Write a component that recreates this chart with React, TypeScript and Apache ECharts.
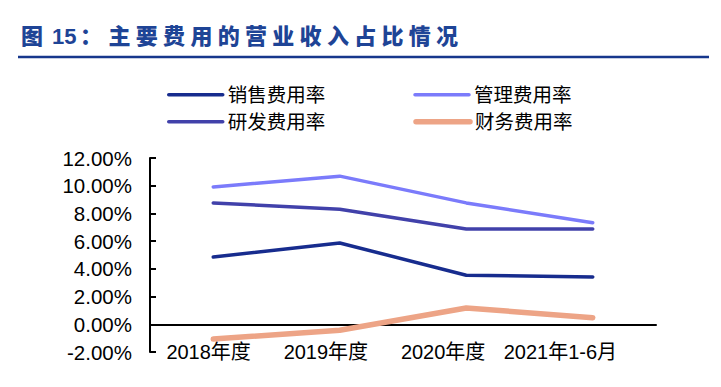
import React, { useEffect, useRef } from "react";
import * as echarts from "echarts";

const categories = ["2018年度", "2019年度", "2020年度", "2021年1-6月"];
const seriesNames = ["销售费用率", "管理费用率", "研发费用率", "财务费用率"];
const salesRate = [4.86, 5.87, 3.54, 3.42];
const adminRate = [9.91, 10.69, 8.76, 7.32];
const rdRate = [8.76, 8.3, 6.88, 6.88];
const financeRate = [-1.07, -0.43, 1.18, 0.48];
const seriesColors = ["#172C8E", "#7B7BFB", "#4141AA", "#EDA486"];
const seriesWidths = [3.5, 3.5, 3.5, 5.5];
const yMin = -2;
const yMax = 12;
const yInterval = 2;
const titlePrefix = ["图", "15", "："];
const titleBody = "主要费用的营业收入占比情况";

const FONT = "'Liberation Sans', 'Noto Sans CJK SC', sans-serif";
const TITLE_COLOR = "#1E4496";

export default function App() {
  const ref = useRef<HTMLDivElement>(null);
  useEffect(() => {
    if (!ref.current) return;
    const chart = echarts.init(ref.current, null, { renderer: "svg" });
    const data = [salesRate, adminRate, rdRate, financeRate];

    const prefixX = [21, 52, 80];
    const titleEls: any[] = [];
    titlePrefix.forEach((t, i) => {
      titleEls.push({
        type: "text",
        x: prefixX[i],
        y: 36,
        style: {
          text: t,
          fill: TITLE_COLOR,
          font: `900 22px ${FONT}`,
          textVerticalAlign: "middle",
        },
      });
    });
    Array.from(titleBody).forEach((ch, i) => {
      titleEls.push({
        type: "text",
        x: 108.5 + i * 27.3,
        y: 36,
        style: {
          text: ch,
          fill: TITLE_COLOR,
          font: `900 22px ${FONT}`,
          textVerticalAlign: "middle",
        },
      });
    });
    titleEls.push({
      type: "line",
      shape: { x1: 18, y1: 57, x2: 709, y2: 57 },
      style: { stroke: "#16378C", lineWidth: 2.5 },
    });

    const legendItem = (i: number) => ({
      name: seriesNames[i],
      itemStyle: { opacity: 0 },
      lineStyle: { width: seriesWidths[i], cap: "round", color: seriesColors[i] },
    });

    const legendBase = {
      left: 167,
      padding: 0,
      itemWidth: 54,
      itemHeight: 14,
      itemGap: 88,
      selectedMode: false,
      textStyle: { fontSize: 19.5, color: "#000", fontFamily: FONT },
    };

    chart.setOption({
      animation: false,
      backgroundColor: "#ffffff",
      textStyle: { fontFamily: FONT },
      graphic: titleEls,
      legend: [
        { ...legendBase, top: 85, data: [legendItem(0), legendItem(1)] },
        { ...legendBase, top: 112, data: [legendItem(2), legendItem(3)] },
      ],
      grid: [
        { left: 150, top: 158, width: 506, height: 194, containLabel: false },
        { left: 150, top: 158, width: 469, height: 194, containLabel: false },
      ],
      xAxis: [
        {
          type: "category",
          gridIndex: 0,
          data: categories,
          boundaryGap: true,
          axisLine: { onZero: true, lineStyle: { color: "#000", width: 2 } },
          axisTick: { inside: true, length: 6, lineStyle: { color: "#000", width: 2 } },
          axisLabel: { show: false },
        },
        {
          type: "category",
          gridIndex: 1,
          data: categories,
          position: "bottom",
          axisLine: { show: false, onZero: false },
          axisTick: { show: false },
          axisLabel: { interval: 0, fontSize: 20, color: "#000", margin: -10, fontFamily: FONT },
        },
      ],
      yAxis: [
        {
          type: "value",
          gridIndex: 0,
          min: yMin,
          max: yMax,
          interval: yInterval,
          axisLine: { show: true, lineStyle: { color: "#000", width: 2 } },
          axisTick: { show: true, inside: true, length: 6, lineStyle: { color: "#000", width: 2 } },
          splitLine: { show: false },
          axisLabel: {
            fontSize: 20.5,
            color: "#000",
            margin: 18,
            fontFamily: FONT,
            formatter: (v: number) => v.toFixed(2) + "%",
          },
        },
        {
          type: "value",
          gridIndex: 1,
          min: yMin,
          max: yMax,
          interval: yInterval,
          show: false,
        },
      ],
      series: seriesNames.map((name, i) => ({
        name,
        type: "line",
        xAxisIndex: 0,
        yAxisIndex: 0,
        data: data[i],
        symbol: "none",
        color: seriesColors[i],
        lineStyle: { width: seriesWidths[i], color: seriesColors[i], cap: "round", join: "round" },
        z: i === 3 ? 1 : 2,
      })),
    });
    return () => chart.dispose();
  }, []);
  return <div ref={ref} style={{ width: 721, height: 387, margin: -8 }} />;
}
